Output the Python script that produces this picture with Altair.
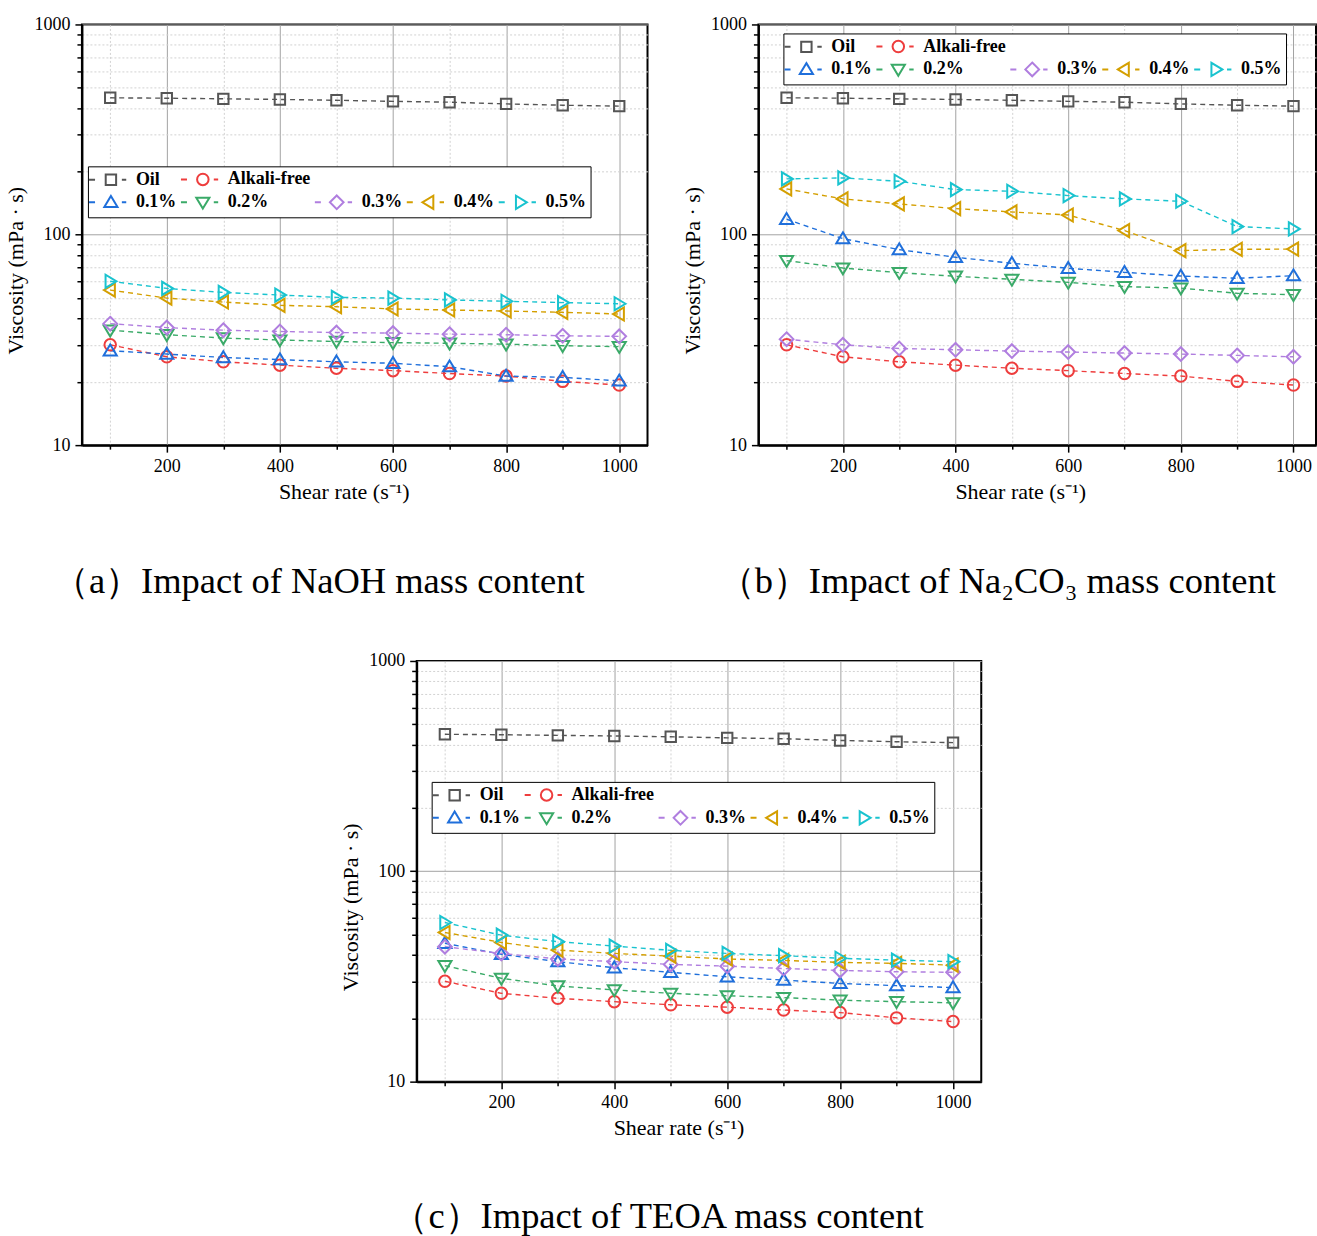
import altair as alt
import pandas as pd

# ---------------- data ----------------
shear = [100, 200, 300, 400, 500, 600, 700, 800, 900, 1000]

oil = [448, 446, 443, 440, 436, 431, 427, 419, 413, 409]
alkali_free = [30.0, 26.3, 24.9, 24.0, 23.2, 22.6, 21.9, 21.3, 20.1, 19.3]

naoh_01 = [28.1, 27.1, 26.1, 25.5, 24.9, 24.5, 23.6, 21.3, 21.0, 20.2]
naoh_02 = [35.2, 33.5, 32.3, 31.6, 31.1, 30.7, 30.5, 30.2, 29.7, 29.4]
naoh_03 = [37.8, 36.2, 35.2, 34.7, 34.3, 34.1, 33.7, 33.5, 33.1, 32.9]
naoh_04 = [54.6, 50.0, 47.9, 46.2, 45.5, 44.4, 43.9, 43.4, 42.8, 42.0]
naoh_05 = [60.1, 55.6, 53.2, 51.7, 50.4, 50.0, 49.0, 48.3, 47.6, 47.0]

na2co3_01 = [118.5, 95.9, 85.0, 78.2, 73.2, 69.3, 66.3, 63.7, 62.1, 63.9]
na2co3_02 = [75.4, 69.5, 66.1, 63.5, 61.4, 59.4, 56.7, 55.8, 52.7, 51.9]
na2co3_03 = [31.9, 30.0, 28.8, 28.4, 28.0, 27.7, 27.4, 27.1, 26.7, 26.3]
na2co3_04 = [165.2, 148.1, 140.2, 133.2, 128.4, 124.2, 104.7, 84.1, 85.3, 85.5]
na2co3_05 = [184.4, 186.4, 179.7, 164.0, 161.0, 153.6, 148.1, 144.3, 109.4, 106.6]

teoa_01 = [45.5, 40.3, 37.2, 34.8, 33.1, 31.5, 30.4, 29.3, 28.6, 28.0]
teoa_02 = [35.6, 31.0, 28.5, 27.3, 26.3, 25.6, 25.1, 24.4, 24.0, 23.7]
teoa_03 = [43.8, 40.7, 38.3, 37.2, 36.1, 35.4, 34.5, 33.8, 33.3, 33.1]
teoa_04 = [51.2, 45.9, 42.2, 40.7, 39.5, 38.3, 37.7, 36.9, 36.5, 35.8]
teoa_05 = [57.1, 49.7, 46.3, 44.1, 42.1, 40.7, 39.7, 38.6, 37.8, 37.2]

series_names = ["Oil", "Alkali-free", "0.1%", "0.2%", "0.3%", "0.4%", "0.5%"]
x_ticks = [100, 200, 300, 400, 500, 600, 700, 800, 900, 1000]
y_ticks = [10, 20, 30, 40, 50, 60, 70, 80, 90,
           100, 200, 300, 400, 500, 600, 700, 800, 900, 1000]

captions = ["（a）Impact of NaOH mass content",
            "（b）Impact of Na₂CO₃ mass content",
            "（c）Impact of TEOA mass content"]

# ---------------- styling ----------------
FONT = "Liberation Serif"
# legend grid order (Origin-like layout: 2 items on row 1, 5 on row 2)
legend_domain = ["Oil", "Alkali-free", "_1", "_2", "_3",
                 "0.1%", "0.2%", "0.3%", "0.4%", "0.5%"]
series_colors = {"Oil": "#555555", "Alkali-free": "#EE3D3D", "0.1%": "#1F6FDB",
                 "0.2%": "#3AAA68", "0.3%": "#B07EDF", "0.4%": "#D49F00",
                 "0.5%": "#19C3CF"}
marker_paths = {
    "Oil": "M-0.95,-0.95H0.95V0.95H-0.95Z",
    "Alkali-free": "M-1.05,0A1.05,1.05,0,1,1,1.05,0A1.05,1.05,0,1,1,-1.05,0Z",
    "0.1%": "M0,-1.15L1.2,0.85H-1.2Z",
    "0.2%": "M0,1.15L1.2,-0.85H-1.2Z",
    "0.3%": "M0,-1.25L1.25,0L0,1.25L-1.25,0Z",
    "0.4%": "M-1.15,0L0.85,-1.2V1.2Z",
    "0.5%": "M1.15,0L-0.85,-1.2V1.2Z",
}
DASHES = "M-4.0,0H-2.9M2.0,0H2.8"

legend_colors = [series_colors.get(k, "transparent") for k in legend_domain]
line_colors = [series_colors[k] for k in series_names]
shape_range = [marker_paths[k] for k in series_names]

shape_expr = "'M0,0'"
for k in reversed(series_names):
    shape_expr = f"datum.value === '{k}' ? '{DASHES}{marker_paths[k]}' : ({shape_expr})"

MAJOR_X = "datum.value % 200 === 0"
MAJOR_Y = "datum.value === 10 || datum.value === 100 || datum.value === 1000"


def make_df(values):
    rows = []
    for name, vals in zip(series_names, values):
        for s, v in zip(shear, vals):
            rows.append({"shear": s, "visc": v, "series": name})
    return pd.DataFrame(rows)


def panel(values, caption, lx, ly, width, xmax, cap_offset, cap_dx):
    df = make_df(values)
    x = alt.X("shear:Q",
              scale=alt.Scale(domain=[50, xmax], nice=False, zero=False),
              axis=alt.Axis(values=x_ticks, title="Shear rate (s⁻¹)",
                            labelExpr=f"{MAJOR_X} ? datum.label : ''",
                            format="d",
                            gridColor={"condition": {"test": MAJOR_X, "value": "#a3a3a3"}, "value": "#d2d2d2"},
                            gridDash={"condition": {"test": MAJOR_X, "value": []}, "value": [2, 2]},
                            tickSize={"condition": {"test": MAJOR_X, "value": 7}, "value": 4},
                            titleX=262))
    y = alt.Y("visc:Q",
              scale=alt.Scale(type="log", domain=[10, 1000], nice=False),
              axis=alt.Axis(values=y_ticks, title="Viscosity (mPa · s)",
                            labelExpr=f"({MAJOR_Y}) ? datum.label : ''",
                            format="d",
                            gridColor={"condition": {"test": MAJOR_Y, "value": "#a3a3a3"}, "value": "#d2d2d2"},
                            gridDash={"condition": {"test": MAJOR_Y, "value": []}, "value": [2, 2]},
                            tickSize={"condition": {"test": MAJOR_Y, "value": 7}, "value": 5},
                            titleY=246))
    legend = alt.Legend(
        title=None, orient="none", legendX=lx, legendY=ly, columns=5,
        direction="horizontal", strokeColor="black", fillColor="white",
        padding=4, cornerRadius=0,
        labelFont=FONT, labelFontSize=18, labelFontWeight="bold",
        labelColor="black", labelLimit=200,
        labelExpr="indexof(datum.value, '_') === 0 ? '' : datum.label",
        symbolType={"expr": shape_expr},
        symbolSize=120, symbolStrokeWidth=2, symbolOffset=10,
        symbolOpacity=1, symbolFillColor="transparent",
        labelOffset=16, columnPadding=0, rowPadding=2,
    )
    lines = alt.Chart(df).mark_line(strokeDash=[5, 4], strokeWidth=1.4).encode(
        x=x, y=y,
        stroke=alt.Stroke("series:N", scale=alt.Scale(domain=series_names, range=line_colors),
                          legend=None))
    points = alt.Chart(df).mark_point(filled=False, size=120, strokeWidth=2, opacity=1).encode(
        x=x, y=y,
        color=alt.Color("series:N", scale=alt.Scale(domain=legend_domain, range=legend_colors),
                        legend=legend),
        shape=alt.Shape("series:N", scale=alt.Scale(domain=series_names, range=shape_range),
                        legend=None))
    return alt.layer(lines, points).properties(
        width=width, height=421,
        title=alt.TitleParams(caption, orient="bottom", font=FONT, fontSize=36.5,
                              fontWeight="normal", color="black", offset=cap_offset,
                              dx=cap_dx))


pa = panel([oil, alkali_free, naoh_01, naoh_02, naoh_03, naoh_04, naoh_05],
           captions[0], 6, 142, 566, 1050, 62, -46)
pb = panel([oil, alkali_free, na2co3_01, na2co3_02, na2co3_03, na2co3_04, na2co3_05],
           captions[1], 25, 9, 558, 1040, 62, -40)
pc = panel([oil, alkali_free, teoa_01, teoa_02, teoa_03, teoa_04, teoa_05],
           captions[2], 15, 121, 565, 1050, 60, -41)

RES = dict(color="independent", shape="independent", stroke="independent")
top = alt.hconcat(pa, pb, spacing=32).resolve_scale(**RES).resolve_legend(**RES)

chart = alt.vconcat(top, pc, spacing=49, center=True).resolve_scale(**RES).resolve_legend(
    **RES).properties(
    padding={"left": 4, "top": 14, "right": 0, "bottom": 0},
    background="white",
).configure_view(stroke="black", strokeWidth=2).configure_axis(
    labelFont=FONT, labelFontSize=18, labelColor="black",
    titleFont=FONT, titleFontSize=22, titleFontWeight="normal", titleColor="black",
    domainColor="black", domainWidth=2, tickColor="black", tickWidth=1.5,
    labelPadding=5, titlePadding=6, grid=True, gridWidth=1,
)

chart.save("out.html", embed_options={"renderer": "svg", "actions": False})
